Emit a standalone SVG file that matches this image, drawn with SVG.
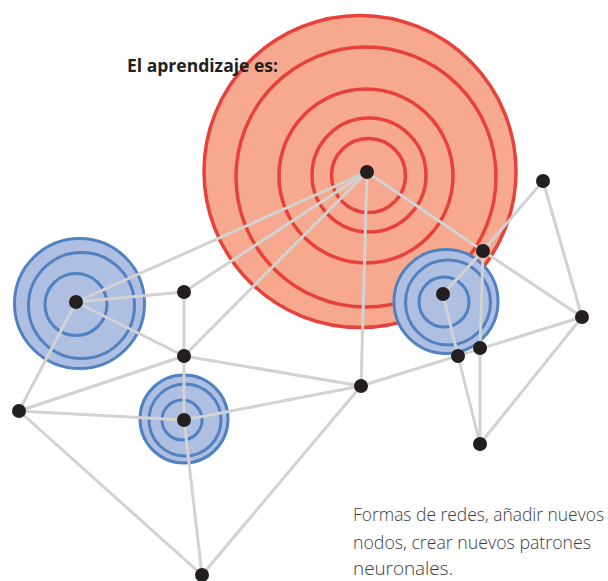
<svg xmlns="http://www.w3.org/2000/svg" width="608" height="581" viewBox="0 0 608 581">
<style>
.red{fill:#f7a98f;stroke:#e8403a;stroke-width:3.5}
.redring{fill:none;stroke:#e8403a;stroke-width:3.5}
.blue{fill:#aebfe2;stroke:#5082c2;stroke-width:3}
.bluering{fill:none;stroke:#5082c2;stroke-width:3}
.edge{stroke:#d2d2d2;stroke-width:3;fill:none;stroke-linecap:round}
.node{fill:#231f20}
.title{font-family:"Open Sans","Liberation Sans",sans-serif;font-weight:700;font-size:17px;fill:#231f20}
.body{font-family:"Open Sans","Liberation Sans",sans-serif;font-weight:300;font-size:17.5px;fill:#3c3c3c}
</style>
<rect width="608" height="581" fill="#ffffff"/>
<g id="red-circle">
<circle class="red" cx="360" cy="171.5" r="156"/>
<circle class="redring" cx="366" cy="177" r="130"/>
<circle class="redring" cx="366" cy="176" r="87"/>
<circle class="redring" cx="369" cy="175" r="57"/>
<circle class="redring" cx="368.5" cy="175.5" r="37"/>
</g>
<g id="blue-left">
<circle class="blue" cx="79.5" cy="303.5" r="65"/>
<circle class="bluering" cx="81.5" cy="305.5" r="53"/>
<circle class="bluering" cx="76" cy="304.5" r="31"/>
</g>
<g id="blue-right">
<circle class="blue" cx="446" cy="301.5" r="52"/>
<circle class="bluering" cx="448" cy="302.5" r="42.5"/>
<circle class="bluering" cx="444" cy="302" r="25"/>
</g>
<g id="blue-bottom">
<circle class="blue" cx="184" cy="419" r="44"/>
<circle class="bluering" cx="185" cy="420" r="36"/>
<circle class="bluering" cx="182" cy="420" r="20"/>
</g>
<g id="connectors">
<line class="edge" x1="367" y1="172" x2="76" y2="302"/>
<line class="edge" x1="367" y1="172" x2="184" y2="292"/>
<line class="edge" x1="367" y1="172" x2="184" y2="356"/>
<line class="edge" x1="367" y1="172" x2="361" y2="386"/>
<line class="edge" x1="367" y1="172" x2="483" y2="251"/>
<line class="edge" x1="76" y1="302" x2="184" y2="292"/>
<line class="edge" x1="76" y1="302" x2="184" y2="356"/>
<line class="edge" x1="76" y1="302" x2="19" y2="411"/>
<line class="edge" x1="184" y1="292" x2="184" y2="356"/>
<line class="edge" x1="184" y1="356" x2="184" y2="420"/>
<line class="edge" x1="184" y1="356" x2="361" y2="386"/>
<line class="edge" x1="184" y1="356" x2="19" y2="411"/>
<line class="edge" x1="184" y1="420" x2="19" y2="411"/>
<line class="edge" x1="184" y1="420" x2="361" y2="386"/>
<line class="edge" x1="184" y1="420" x2="202" y2="575"/>
<line class="edge" x1="19" y1="411" x2="202" y2="575"/>
<line class="edge" x1="202" y1="575" x2="361" y2="386"/>
<line class="edge" x1="361" y1="386" x2="582" y2="317"/>
<line class="edge" x1="443" y1="294" x2="483" y2="251"/>
<line class="edge" x1="443" y1="294" x2="458" y2="356"/>
<line class="edge" x1="458" y1="356" x2="480" y2="444"/>
<line class="edge" x1="483" y1="251" x2="480" y2="348"/>
<line class="edge" x1="480" y1="348" x2="480" y2="444"/>
<line class="edge" x1="483" y1="251" x2="582" y2="317"/>
<line class="edge" x1="483" y1="251" x2="543" y2="181"/>
<line class="edge" x1="543" y1="181" x2="582" y2="317"/>
<line class="edge" x1="582" y1="317" x2="480" y2="444"/>
</g>
<g id="nodes">
<circle id="n-r" class="node" cx="367" cy="172" r="7"/>
<circle id="n-l" class="node" cx="76" cy="302" r="7"/>
<circle id="n-a" class="node" cx="184" cy="292" r="7"/>
<circle id="n-b" class="node" cx="184" cy="356" r="7"/>
<circle id="n-c" class="node" cx="19" cy="411" r="7"/>
<circle id="n-d" class="node" cx="184" cy="420" r="7"/>
<circle id="n-e" class="node" cx="361" cy="386" r="7"/>
<circle id="n-f" class="node" cx="202" cy="575" r="7"/>
<circle id="n-g" class="node" cx="483" cy="251" r="7"/>
<circle id="n-h" class="node" cx="543" cy="181" r="7"/>
<circle id="n-i" class="node" cx="582" cy="317" r="7"/>
<circle id="n-j" class="node" cx="443" cy="294" r="7"/>
<circle id="n-k" class="node" cx="458" cy="356" r="7"/>
<circle id="n-m" class="node" cx="480" cy="348" r="7"/>
<circle id="n-n" class="node" cx="480" cy="444" r="7"/>
</g>
<g id="title">
<text class="title" x="127" y="72" textLength="151" lengthAdjust="spacingAndGlyphs">El aprendizaje es:</text>
</g>
<g id="caption">
<text class="body" x="353" y="521" textLength="251" lengthAdjust="spacingAndGlyphs">Formas de redes, añadir nuevos</text>
<text class="body" x="353" y="549" textLength="238" lengthAdjust="spacingAndGlyphs">nodos, crear nuevos patrones</text>
<text class="body" x="353" y="575" textLength="100" lengthAdjust="spacingAndGlyphs">neuronales.</text>
</g>
</svg>
